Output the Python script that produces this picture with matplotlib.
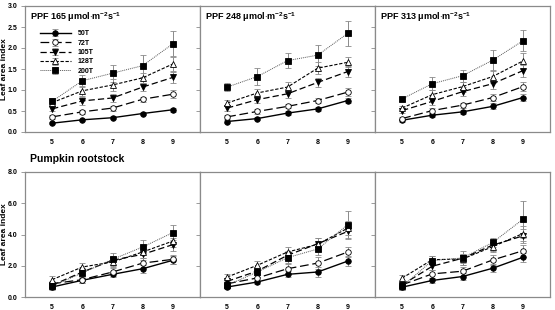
import matplotlib
matplotlib.use("Agg")
import matplotlib.pyplot as plt
import numpy as np

plt.rcParams["font.family"] = ["Liberation Sans", "DejaVu Sans"]
plt.rcParams["font.weight"] = "bold"
plt.rcParams["mathtext.fontset"] = "custom"
plt.rcParams["mathtext.rm"] = "Liberation Sans:bold"
plt.rcParams["mathtext.bf"] = "Liberation Sans:bold"

weeks = [5, 6, 7, 8, 9]
treatments = ["50T", "72T", "105T", "128T", "200T"]
ppf_titles = ["165", "248", "313"]

# top row: three PPF levels, LAI per treatment
top_50T = [[0.21, 0.29, 0.34, 0.44, 0.53], [0.25, 0.32, 0.45, 0.55, 0.75], [0.28, 0.40, 0.48, 0.61, 0.82]]
top_72T = [[0.36, 0.48, 0.57, 0.78, 0.90], [0.36, 0.49, 0.61, 0.75, 0.95], [0.32, 0.51, 0.64, 0.82, 1.08]]
top_105T = [[0.55, 0.74, 0.81, 1.07, 1.30], [0.57, 0.77, 0.91, 1.18, 1.44], [0.51, 0.73, 0.96, 1.15, 1.46]]
top_128T = [[0.70, 0.98, 1.12, 1.29, 1.62], [0.69, 0.93, 1.07, 1.52, 1.66], [0.57, 0.89, 1.08, 1.32, 1.69]]
top_200T = [[0.73, 1.22, 1.40, 1.58, 2.10], [1.07, 1.32, 1.70, 1.83, 2.35], [0.79, 1.15, 1.34, 1.71, 2.17]]

top_err_50T = [[0.03, 0.03, 0.04, 0.04, 0.05], [0.03, 0.03, 0.04, 0.05, 0.07], [0.03, 0.05, 0.05, 0.07, 0.08]]
top_err_72T = [[0.04, 0.05, 0.06, 0.06, 0.10], [0.04, 0.05, 0.05, 0.07, 0.10], [0.04, 0.05, 0.06, 0.08, 0.10]]
top_err_105T = [[0.06, 0.10, 0.10, 0.10, 0.14], [0.06, 0.08, 0.10, 0.10, 0.14], [0.06, 0.08, 0.10, 0.12, 0.14]]
top_err_128T = [[0.07, 0.12, 0.15, 0.12, 0.16], [0.08, 0.10, 0.12, 0.15, 0.12], [0.05, 0.10, 0.12, 0.15, 0.18]]
top_err_200T = [[0.08, 0.14, 0.20, 0.26, 0.30], [0.10, 0.20, 0.18, 0.25, 0.30], [0.05, 0.15, 0.14, 0.25, 0.25]]

# bottom row: pumpkin rootstock
bot_50T = [[0.64, 1.07, 1.45, 1.81, 2.35], [0.64, 0.96, 1.45, 1.60, 2.30], [0.63, 1.06, 1.31, 1.84, 2.54]]
bot_72T = [[0.85, 1.11, 1.60, 2.17, 2.41], [0.85, 1.22, 1.81, 2.17, 2.88], [0.78, 1.48, 1.65, 2.37, 2.96]]
bot_105T = [[0.75, 1.60, 2.35, 2.73, 3.35], [1.00, 1.66, 2.67, 3.41, 4.20], [0.78, 1.97, 2.48, 3.32, 3.91]]
bot_128T = [[1.11, 1.92, 2.24, 2.88, 3.58], [1.28, 2.03, 2.88, 3.37, 4.41], [1.21, 2.39, 2.43, 3.22, 4.06]]
bot_200T = [[0.70, 1.54, 2.41, 3.20, 4.12], [0.75, 1.60, 2.52, 3.07, 4.63], [0.68, 2.33, 2.50, 3.49, 4.97]]

bot_err_50T = [[0.15, 0.15, 0.20, 0.25, 0.25], [0.15, 0.15, 0.20, 0.35, 0.30], [0.15, 0.15, 0.20, 0.25, 0.30]]
bot_err_72T = [[0.20, 0.20, 0.25, 0.30, 0.30], [0.20, 0.20, 0.30, 0.40, 0.35], [0.20, 0.25, 0.30, 0.30, 0.40]]
bot_err_105T = [[0.20, 0.25, 0.30, 0.35, 0.40], [0.20, 0.25, 0.30, 0.35, 0.45], [0.20, 0.25, 0.30, 0.35, 0.45]]
bot_err_128T = [[0.25, 0.25, 0.30, 0.40, 0.40], [0.20, 0.30, 0.30, 0.40, 0.45], [0.20, 0.25, 0.35, 0.35, 0.50]]
bot_err_200T = [[0.25, 0.30, 0.40, 0.45, 0.50], [0.20, 0.30, 0.35, 0.40, 0.90], [0.20, 0.30, 0.45, 0.30, 1.20]]

styles = {
    "50T": dict(ls="-", marker="o", mfc="black", lw=1.0),
    "72T": dict(ls=(0, (7, 3)), marker="o", mfc="white", lw=0.9),
    "105T": dict(ls=(0, (5, 2.5)), marker="v", mfc="black", lw=0.9),
    "128T": dict(ls=(0, (3, 1.5)), marker="^", mfc="white", lw=0.8),
    "200T": dict(ls=(0, (1, 1)), marker="s", mfc="black", lw=0.7),
}

W, H = 555, 310
fig = plt.figure(figsize=(W / 100, H / 100), dpi=100)

lefts = [25, 200, 375]
panel_w = 175
rows = [
    (6, 132, [top_50T, top_72T, top_105T, top_128T, top_200T],
     [top_err_50T, top_err_72T, top_err_105T, top_err_128T, top_err_200T], (0, 3.0), np.arange(0, 3.01, 0.5)),
    (172, 297, [bot_50T, bot_72T, bot_105T, bot_128T, bot_200T],
     [bot_err_50T, bot_err_72T, bot_err_105T, bot_err_128T, bot_err_200T], (0, 8.0), np.arange(0, 8.01, 2.0)),
]

grey = "#8a8a8a"
for r, (ytop, ybot, series, errs, ylim, yticks) in enumerate(rows):
    for p, left in enumerate(lefts):
        ax = fig.add_axes([left / W, 1 - ybot / H, panel_w / W, (ybot - ytop) / H])
        for t, name in enumerate(treatments):
            st = styles[name]
            line_col = "#555555" if name == "200T" else "black"
            ax.errorbar(weeks, series[t][p], yerr=errs[t][p], color=line_col,
                        ecolor=grey, elinewidth=0.7, capsize=2, capthick=0.7,
                        ls=st["ls"], lw=st["lw"], marker=st["marker"], ms=4,
                        mfc=st["mfc"], mec="black", mew=0.6, label=name, zorder=3)
        ax.set_xlim(4.1, 9.9)
        ax.set_ylim(*ylim)
        ax.set_xticks(weeks)
        ax.set_yticks(yticks)
        ax.tick_params(axis="both", direction="out", length=3, width=0.6,
                       color=grey, labelsize=5, pad=2.5)
        ax.tick_params(axis="x", length=0, pad=5)
        if p == 0:
            ax.set_yticklabels([f"{v:.1f}" for v in yticks])
            ax.set_ylabel("Leaf area index", fontsize=6, fontweight="bold")
            ax.yaxis.set_label_coords(-17 / panel_w, 0.5)
        else:
            ax.set_yticklabels([])
        for s in ax.spines.values():
            s.set_color(grey)
            s.set_linewidth(0.9)
        if r == 0:
            ax.text(0.03, 0.965, "PPF " + ppf_titles[p] + r" μmol$\cdot$m$^{-2}$s$^{-1}$",
                    transform=ax.transAxes, fontsize=6.5, fontweight="bold", va="top")
            if p == 0:
                ax.legend(loc="upper left", bbox_to_anchor=(0.07, 0.83), frameon=False,
                          fontsize=5, handlelength=4.4, handletextpad=1.0,
                          labelspacing=0.35, borderaxespad=0)
        elif p == 0:
            ax.text(0.03, 1.06, "Pumpkin rootstock", transform=ax.transAxes,
                    fontsize=7.5, fontweight="bold", va="bottom")

fig.savefig("out.png", dpi=100)
